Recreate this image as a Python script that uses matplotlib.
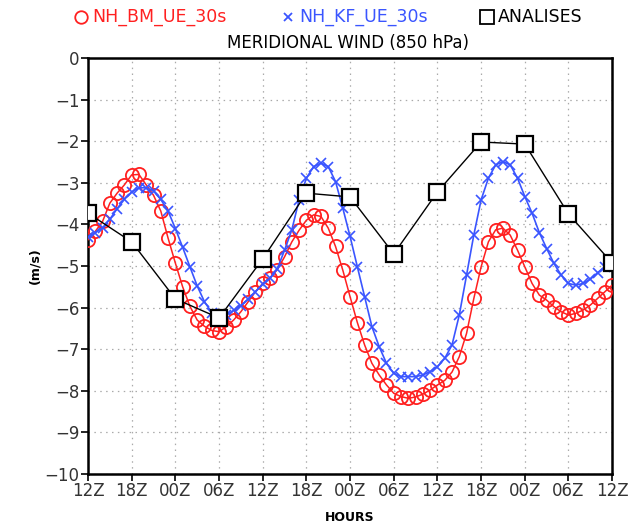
import numpy as np
import matplotlib.pyplot as plt
from matplotlib.lines import Line2D

# hourly forecasts, 12Z day 1 to 12Z day 4
HOURS = np.arange(0, 73)
BM_UE = [
    -4.37, -4.17, -3.93, -3.49, -3.25, -3.05, -2.81, -2.80, -3.05, -3.30,
    -3.68, -4.33, -4.93, -5.50, -5.97, -6.30, -6.45, -6.55, -6.58, -6.46,
    -6.30, -6.10, -5.86, -5.62, -5.42, -5.28, -5.09, -4.78, -4.42, -4.14,
    -3.90, -3.77, -3.81, -4.09, -4.53, -5.10, -5.74, -6.36, -6.90, -7.34,
    -7.62, -7.86, -8.06, -8.14, -8.18, -8.15, -8.08, -7.98, -7.86, -7.75,
    -7.55, -7.18, -6.62, -5.78, -5.02, -4.42, -4.13, -4.09, -4.26, -4.62,
    -5.02, -5.42, -5.70, -5.82, -5.98, -6.10, -6.18, -6.14, -6.06, -5.94,
    -5.78, -5.62, -5.46,
]
KF_UE = [
    -4.30, -4.20, -4.08, -3.88, -3.62, -3.40, -3.22, -3.12, -3.12, -3.20,
    -3.40, -3.68, -4.10, -4.55, -5.02, -5.48, -5.86, -6.12, -6.28, -6.18,
    -6.07, -5.95, -5.80, -5.62, -5.44, -5.30, -5.07, -4.62, -4.13, -3.41,
    -2.89, -2.61, -2.53, -2.61, -2.97, -3.61, -4.29, -5.02, -5.74, -6.46,
    -6.94, -7.34, -7.58, -7.66, -7.66, -7.66, -7.62, -7.54, -7.42, -7.22,
    -6.90, -6.18, -5.22, -4.25, -3.41, -2.89, -2.57, -2.49, -2.57, -2.89,
    -3.33, -3.73, -4.20, -4.58, -4.94, -5.22, -5.42, -5.46, -5.42, -5.32,
    -5.16, -5.02, -4.90,
]
# analyses every 6 hours
ANL_HOURS = np.arange(0, 73, 6)
ANALISES = [-3.73, -4.42, -5.79, -6.25, -4.83, -3.25, -3.34, -4.71, -3.22,
            -2.02, -2.07, -3.75, -4.93]
XLABELS = ["12Z", "18Z", "00Z", "06Z"] * 3 + ["12Z"]

RED = "#ff2020"
BLUE = "#3a55ff"

fig = plt.figure(figsize=(6.39, 5.29), dpi=100)
ax = fig.add_axes([0.1377, 0.104, 0.8203, 0.7864])

ax.plot(HOURS, BM_UE, color=RED, lw=1.1, marker="o", ms=9.5, mfc="none",
        mec=RED, mew=1.3, zorder=3)
ax.plot(HOURS, KF_UE, color=BLUE, lw=1.2, marker="x", ms=6.5, mec=BLUE,
        mew=1.2, zorder=4)
ax.plot(ANL_HOURS, ANALISES, color="black", lw=1.0, marker="s", ms=11.5,
        mfc="white", mec="black", mew=1.6, zorder=5)

ax.set_xlim(0, 72)
ax.set_ylim(-10, 0)
ax.set_xticks(ANL_HOURS)
ax.set_xticklabels(XLABELS)
ax.set_yticks(np.arange(-10, 1, 1))
ax.set_yticklabels([str(v).replace("-", "\u2212") for v in range(-10, 1)])
ax.tick_params(direction="out", length=5, width=1.2, labelsize=12,
               labelcolor="#333333", pad=1)
ax.grid(True, color="#aaaaaa", ls=(0, (1.2, 3.5)), lw=0.9)
for s in ax.spines.values():
    s.set_linewidth(1.8)

fig.text(0.055, 0.497, "(m/s)", rotation=90, ha="center", va="center",
         fontsize=9, fontweight="bold")
fig.text(0.548, 0.022, "HOURS", ha="center", va="center", fontsize=9,
         fontweight="bold")
fig.text(0.545, 0.918, "MERIDIONAL WIND (850 hPa)", ha="center",
         va="center", fontsize=12)

# legend row across the top
legend_items = [
    (0.127, "o", RED, "none", "NH_BM_UE_30s", 9.0),
    (0.451, "x", BLUE, BLUE, "NH_KF_UE_30s", 6.0),
    (0.762, "s", "black", "none", "ANALISES", 9.5),
]
for x, m, c, mec, label, ms in legend_items:
    fig.add_artist(Line2D([x], [0.968], marker=m, ms=ms, mfc="none",
                          mec=c, mew=1.3, ls="none",
                          transform=fig.transFigure))
    fig.text(x + 0.017, 0.968, label, color=c, ha="left", va="center",
             fontsize=12.5)

fig.savefig("out.png", dpi=100)
